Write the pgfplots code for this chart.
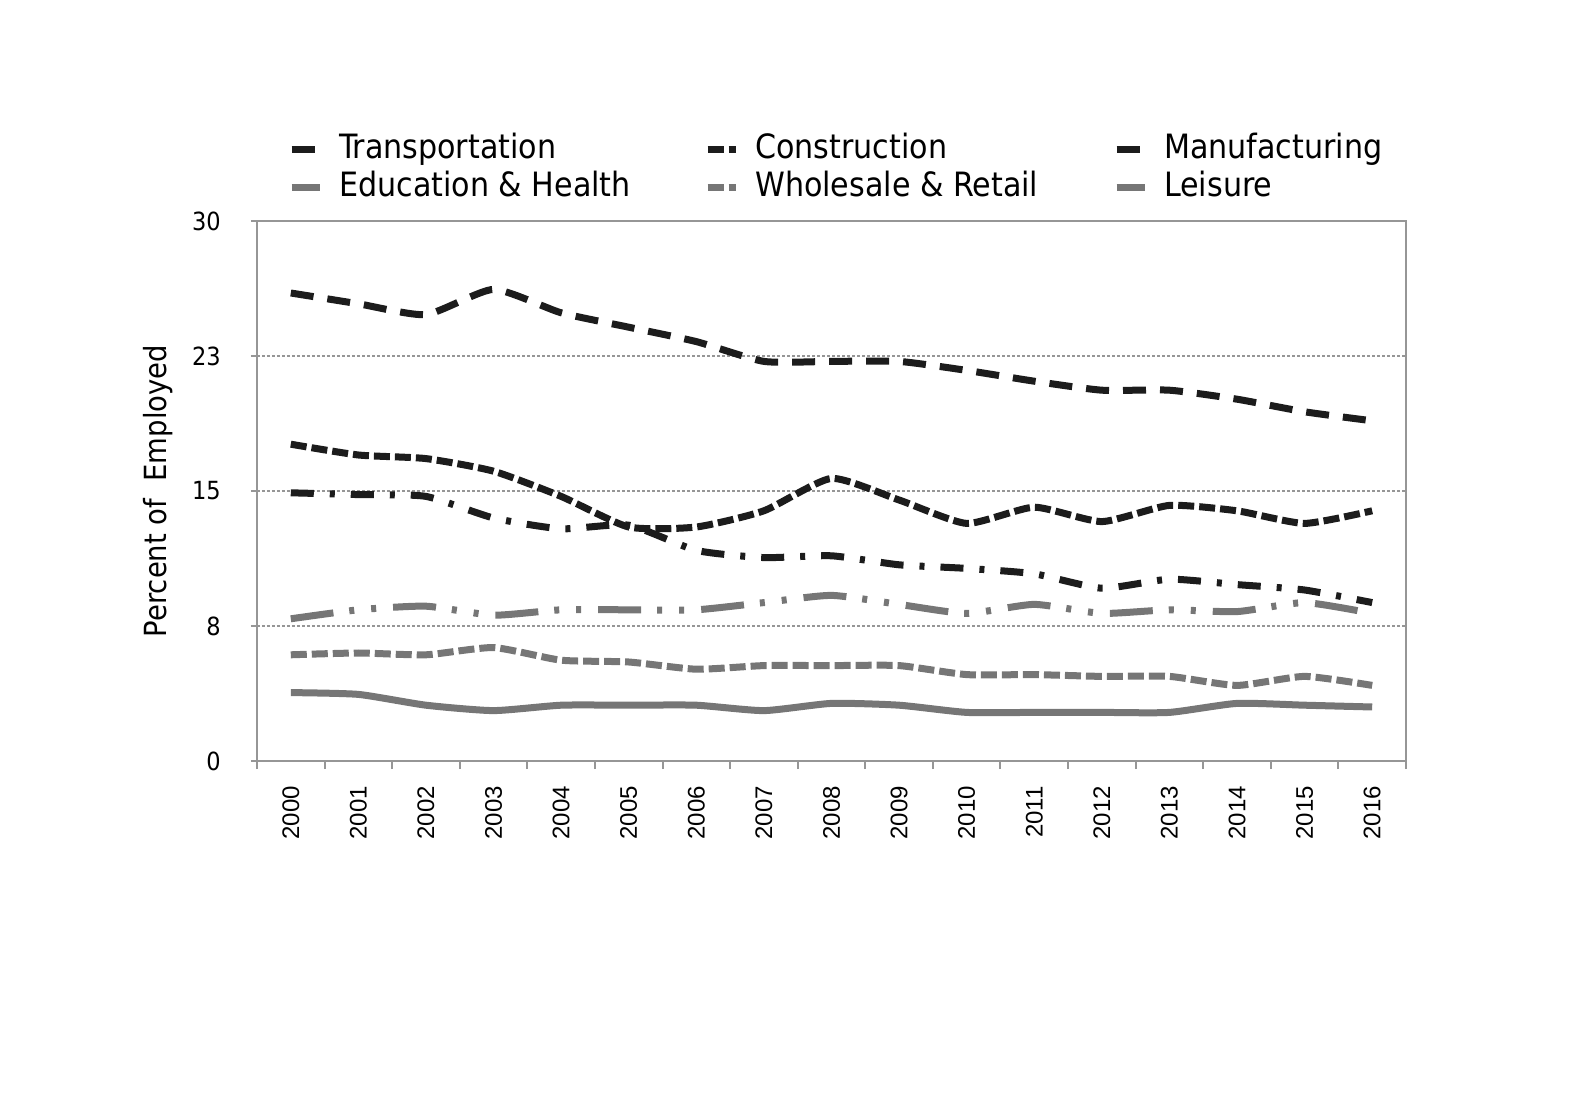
\documentclass[border=0pt]{standalone}
\usepackage{fontspec}
\setmainfont{DejaVu Sans Condensed}
\newfontfamily\arialf{Liberation Sans}
\usepackage{pgfplots}
\pgfplotsset{compat=1.18}
\definecolor{blk}{RGB}{28,28,28}
\definecolor{gry}{RGB}{118,118,118}
\definecolor{axg}{RGB}{150,150,150}
\begin{document}
\begin{tikzpicture}
\begin{axis}[
  scale only axis, width=1149bp, height=540bp,
  xmin=-0.5, xmax=16.5, ymin=0, ymax=30,
  axis line style={axg, line width=2.5bp},
  xtick={0,...,16},
  xticklabels={2000,2001,2002,2003,2004,2005,2006,2007,2008,2009,2010,2011,2012,2013,2014,2015,2016},
  minor xtick={-0.5,0.5,...,16.5},
  ytick={0,7.5,15,22.5,30},
  yticklabels={0,8,15,23,30},
  tick align=outside, tick pos=left,
  major tick length=6bp, minor tick length=8bp,
  every major x tick/.style={draw=none},
  every tick/.style={axg, line width=2bp},
  every minor tick/.style={axg, line width=2bp},
  ymajorgrids,
  grid style={axg, line width=2.5bp, dash pattern=on 3bp off 2bp},
  /pgf/number format/assume math mode=true,
  xticklabel style={font=\arialf\fontsize{24bp}{24bp}\selectfont, rotate=90, anchor=east, inner sep=0pt},
  xticklabel shift=19bp,
  yticklabel style={font=\fontsize{25bp}{25bp}\selectfont, anchor=east, inner sep=0pt},
  yticklabel shift=30bp,
  ylabel={Percent of\ \ Employed},
  every axis y label/.style={at={(axis description cs:-0.086,0.5)}, rotate=90, anchor=center, font=\fontsize{30.5bp}{30.5bp}\selectfont},
  legend columns=3,
  legend cell align=left,
  legend image code/.code={\draw[#1] (0bp,0bp) -- (28bp,0bp);},
  legend style={draw=none, fill=none, at={(axis description cs:0.027,1.161)}, anchor=north west,
    font=\fontsize{33.5bp}{33.5bp}\selectfont, inner sep=0pt,
    nodes={inner sep=0pt, text height=24bp, text depth=7bp},
    row sep=7bp,
    /tikz/every odd column/.append style={column sep=16bp},
    /tikz/every even column/.append style={column sep=0bp}},
  clip=false,
]
\addplot[blk, line width=7bp, smooth, tension=0.35, dash pattern=on 23bp off 14bp] coordinates {
(0,26.0)(1,25.4)(2,24.8)(3,26.2)(4,24.9)(5,24.1)(6,23.3)(7,22.2)(8,22.2)(9,22.2)(10,21.7)(11,21.1)(12,20.6)(13,20.6)(14,20.1)(15,19.4)(16,18.9)};
\addlegendentry{\makebox[365bp][l]{Transportation}}
\addplot[blk, line width=7bp, smooth, tension=0.35, dash pattern=on 16bp off 5bp] coordinates {
(0,17.6)(1,17.0)(2,16.8)(3,16.1)(4,14.7)(5,13.0)(6,13.0)(7,13.9)(8,15.7)(9,14.5)(10,13.2)(11,14.1)(12,13.3)(13,14.2)(14,13.9)(15,13.2)(16,13.9)};
\addlegendentry{\makebox[358bp][l]{Construction}}
\addplot[blk, line width=7bp, smooth, tension=0.35, dash pattern=on 23bp off 16bp on 5bp off 16bp] coordinates {
(0,14.9)(1,14.8)(2,14.7)(3,13.5)(4,12.9)(5,13.1)(6,11.7)(7,11.3)(8,11.4)(9,10.9)(10,10.7)(11,10.4)(12,9.6)(13,10.1)(14,9.8)(15,9.5)(16,8.8)};
\addlegendentry{Manufacturing}
\addplot[gry, line width=7bp, smooth, tension=0.35, dash pattern=on 43bp off 16bp on 5bp off 17bp on 5bp off 17bp] coordinates {
(0,7.9)(1,8.4)(2,8.6)(3,8.1)(4,8.4)(5,8.4)(6,8.4)(7,8.8)(8,9.2)(9,8.7)(10,8.2)(11,8.7)(12,8.2)(13,8.4)(14,8.3)(15,8.8)(16,8.2)};
\addlegendentry{\makebox[365bp][l]{Education \& Health}}
\addplot[gry, line width=7bp, smooth, tension=0.35, dash pattern=on 16bp off 5bp] coordinates {
(0,5.9)(1,6.0)(2,5.9)(3,6.3)(4,5.6)(5,5.5)(6,5.1)(7,5.3)(8,5.3)(9,5.3)(10,4.8)(11,4.8)(12,4.7)(13,4.7)(14,4.2)(15,4.7)(16,4.2)};
\addlegendentry{\makebox[358bp][l]{Wholesale \& Retail}}
\addplot[gry, line width=7bp, smooth, tension=0.35] coordinates {
(0,3.8)(1,3.7)(2,3.1)(3,2.8)(4,3.1)(5,3.1)(6,3.1)(7,2.8)(8,3.2)(9,3.1)(10,2.7)(11,2.7)(12,2.7)(13,2.7)(14,3.2)(15,3.1)(16,3.0)};
\addlegendentry{Leisure}
\end{axis}
\path[use as bounding box] (-257bp,-333bp) rectangle (1316bp,761bp);
\end{tikzpicture}
\end{document}
